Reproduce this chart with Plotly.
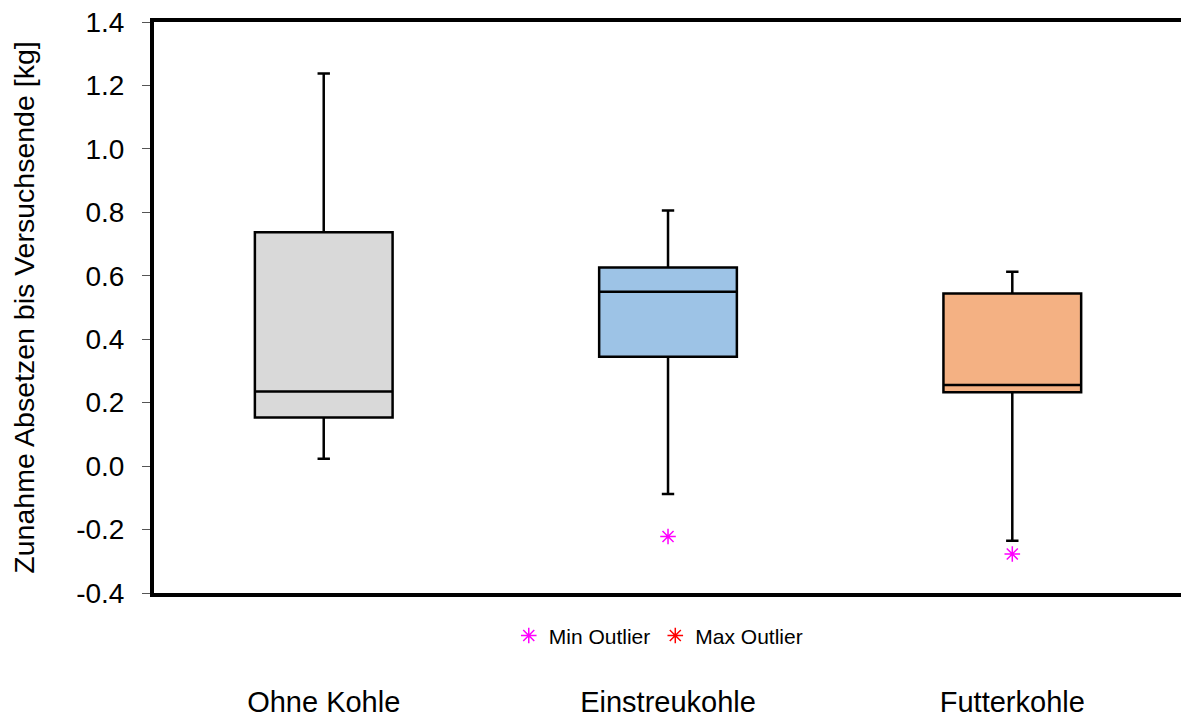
import plotly.graph_objects as go

categories = ["Ohne Kohle", "Einstreukohle", "Futterkohle"]
lower_whisker = [0.023, -0.088, -0.235]
q1_values = [0.153, 0.345, 0.233]
median_values = [0.235, 0.550, 0.256]
q3_values = [0.737, 0.626, 0.544]
upper_whisker = [1.238, 0.806, 0.613]
box_colors = ["#D9D9D9", "#9DC3E6", "#F4B183"]

min_outlier_x = ["Einstreukohle", "Futterkohle"]
min_outlier_y = [-0.222, -0.277]
max_outlier_x = ["Ohne Kohle"]
max_outlier_y = [None]

y_tick_vals = [-0.4, -0.2, 0.0, 0.2, 0.4, 0.6, 0.8, 1.0, 1.2, 1.4]
y_tick_text = ["-0.4", "-0.2", "0.0", "0.2", "0.4", "0.6", "0.8", "1.0", "1.2", "1.4"]

FONT = "Liberation Sans, Arial, sans-serif"

fig = go.Figure()
for i, cat in enumerate(categories):
    fig.add_trace(go.Box(
        x=[cat],
        q1=[q1_values[i]], median=[median_values[i]], q3=[q3_values[i]],
        lowerfence=[lower_whisker[i]], upperfence=[upper_whisker[i]],
        fillcolor=box_colors[i],
        line=dict(color="black", width=2.5),
        width=0.4,
        whiskerwidth=0.09,
        boxpoints=False,
        showlegend=False,
        hoverinfo="skip",
    ))

fig.add_trace(go.Scatter(
    x=min_outlier_x, y=min_outlier_y, mode="markers", name="Min Outlier",
    marker=dict(symbol="asterisk-open", size=13, color="#FF00FF",
                line=dict(color="#FF00FF", width=1.5)),
))
fig.add_trace(go.Scatter(
    x=max_outlier_x, y=max_outlier_y, mode="markers", name="Max Outlier",
    marker=dict(symbol="asterisk-open", size=13, color="#FF0000",
                line=dict(color="#FF0000", width=1.5)),
))

fig.update_layout(
    width=1181, height=718,
    margin=dict(l=154, r=0, t=22, b=125, autoexpand=False),
    paper_bgcolor="white", plot_bgcolor="white",
    font=dict(family=FONT, color="black"),
    boxmode="overlay",
    legend=dict(orientation="h", x=0.491, xanchor="center", y=-0.075, yanchor="middle",
                font=dict(size=21, family=FONT), itemwidth=30, tracegroupgap=0),
)
fig.update_xaxes(
    type="category", categoryorder="array", categoryarray=categories,
    range=[-0.493, 2.49], automargin=False,
    showline=True, linecolor="black", linewidth=4, mirror=True,
    showgrid=False, zeroline=False, ticks="",
    tickfont=dict(size=29, family=FONT),
    ticklabelstandoff=80,
)
fig.update_yaxes(
    range=[-0.4, 1.4], automargin=True,
    tickvals=y_tick_vals, ticktext=y_tick_text,
    showline=True, linecolor="black", linewidth=4, mirror=False,
    showgrid=False, zeroline=False,
    ticks="outside", ticklen=8, tickwidth=1, tickcolor="#555555",
    tickfont=dict(size=28, family=FONT),
    ticklabelstandoff=12,
    title=dict(text="Zunahme Absetzen bis Versuchsende [kg]", font=dict(size=28.5, family=FONT), standoff=34),
)

fig.write_html(
    "out.html",
    config={"displayModeBar": False},
    post_script="document.body.style.margin='0';document.body.style.overflow='hidden';",
)
